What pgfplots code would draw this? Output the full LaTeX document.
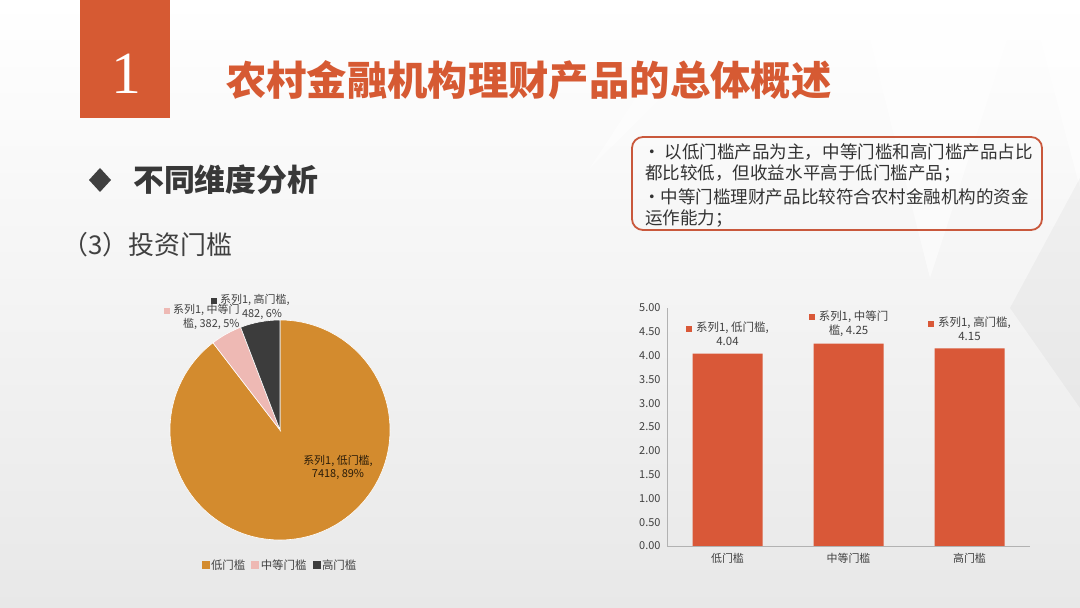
\documentclass[border=0pt]{standalone}
\usepackage{pgfplots}
\pgfplotsset{compat=1.18}
\usepackage{fontspec}
\setmainfont{Noto Sans CJK SC}
\newfontfamily\serifnum{Liberation Serif}
\definecolor{barred}{HTML}{D95838}
\definecolor{titleorange}{HTML}{D65A33}
\definecolor{pieorange}{HTML}{D38B2E}
\definecolor{piepink}{HTML}{EEB9B4}
\definecolor{piedark}{HTML}{3C3C3C}
\definecolor{txtgray}{HTML}{404040}
\definecolor{boxred}{HTML}{C9583C}
\newcommand{\sq}[1]{\textcolor{#1}{\rule{6bp}{6bp}}}
\def\vlow{7418}
\def\vmid{382}
\def\vhigh{482}
\begin{document}
\begin{tikzpicture}[x=1bp,y=1bp]
\shade[top color=white, bottom color=black!9] (0,0) rectangle (1080,608);
\useasboundingbox (0,0) rectangle (1080,608);
% faint background shapes
\fill[white,opacity=0.55] (860,608) -- (1020,608) -- (930,330) -- cycle;
\fill[white,opacity=0.55] (1030,608) -- (1080,608) -- (1080,420) -- cycle;
\fill[black,opacity=0.03] (1010,300) -- (1080,430) -- (1080,200) -- cycle;
\fill[white,opacity=0.45] (590,440) -- (760,608) -- (700,608) -- cycle;
% title
\fill[titleorange] (80,490) rectangle (170,608);
\node[white, font=\serifnum\fontsize{60}{60}\selectfont] at (126,534) {1};
\node[anchor=west, text=titleorange, font=\fontsize{40.5}{40.5}\selectfont\bfseries, inner sep=0] at (226,528) {农村金融机构理财产品的总体概述};
% subtitle
\fill[black!75] (100,440) -- (111,428) -- (100,416) -- (89,428) -- cycle;
\node[anchor=west, text=black!78, font=\fontsize{31}{31}\selectfont\bfseries, inner sep=0] at (133,428) {不同维度分析};
\node[anchor=west, text=txtgray, font=\fontsize{26}{26}\selectfont, inner sep=0] at (62,363) {（3）投资门槛};
% text box
\draw[boxred, line width=1.8bp, rounded corners=11bp] (632,378) rectangle (1042,471);
\begin{scope}[every node/.style={anchor=west, inner sep=0, text=black!80, font=\fontsize{17.6}{17.6}\selectfont}]
\node at (643,456) {• 以低门槛产品为主，中等门槛和高门槛产品占比};
\node at (645,434) {都比较低，但收益水平高于低门槛产品；};
\node at (643,411) {•中等门槛理财产品比较符合农村金融机构的资金};
\node at (645,389) {运作能力；};
\end{scope}
% pie chart
\pgfmathsetmacro\total{\vlow+\vmid+\vhigh}
\pgfmathsetmacro\aA{90-\vlow/\total*360}
\pgfmathsetmacro\aB{\aA-\vmid/\total*360}
\begin{axis}[at={(280bp,178bp)}, anchor=center, scale only axis, width=240bp, height=240bp,
  xmin=-1.2, xmax=1.2, ymin=-1.2, ymax=1.2, hide axis, clip=false,
  legend columns=3,
  legend style={at={(0.5,-0.0625)}, anchor=center, draw=none, fill=none,
    font=\fontsize{11.5}{11.5}\selectfont, text=txtgray,
    /tikz/every even column/.append style={column sep=4bp}},
  legend cell align=left]
\addlegendimage{legend image code/.code={\fill[pieorange] (0bp,-3.5bp) rectangle (7bp,3.5bp);}}
\addlegendentry{低门槛}
\addlegendimage{legend image code/.code={\fill[piepink] (0bp,-3.5bp) rectangle (7bp,3.5bp);}}
\addlegendentry{中等门槛}
\addlegendimage{legend image code/.code={\fill[piedark] (0bp,-3.5bp) rectangle (7bp,3.5bp);}}
\addlegendentry{高门槛}
\fill[pieorange, draw=white, line width=0.6bp] (axis cs:0,0) -- (axis cs:0,1.1) arc[start angle=90, end angle=\aA, radius=110bp] -- cycle;
\fill[piepink, draw=white, line width=0.6bp] (axis cs:0,0) -- ({axis cs:0,0}) ++(\aA:110bp) arc[start angle=\aA, end angle=\aB, radius=110bp] -- (axis cs:0,0) -- cycle;
\fill[piedark, draw=white, line width=0.6bp] (axis cs:0,0) -- ({axis cs:0,0}) ++(\aB:110bp) arc[start angle=\aB, end angle=-270, radius=110bp] -- (axis cs:0,0) -- cycle;
\end{axis}
% pie labels
\begin{scope}[every node/.style={inner sep=0, text=txtgray, font=\fontsize{11}{11}\selectfont}]
\node[anchor=west] at (211,308) {\sq{piedark}\hspace{3bp}系列1, 高门槛,};
\node at (262,294) {482, 6\%};
\node[anchor=west] at (164,298) {\sq{piepink}\hspace{3bp}系列1, 中等门};
\node[anchor=west] at (183,284) {槛, 382, 5\%};
\node[text=black!80!pieorange] at (338,147) {系列1, 低门槛,};
\node[text=black!80!pieorange] at (338,134) {7418, 89\%};
\end{scope}
% bar chart
\begin{axis}[at={(667bp,62bp)}, anchor=south west, scale only axis, width=363bp, height=238bp,
  xmin=-0.5, xmax=2.5, ymin=0, ymax=5,
  ytick={0,0.5,1,1.5,2,2.5,3,3.5,4,4.5,5},
  xtick={0,1,2}, xticklabels={低门槛,中等门槛,高门槛},
  axis x line*=bottom, axis y line*=left, major tick length=0,
  axis line style={draw=black!30, line width=0.8bp},
  tick label style={font=\fontsize{11}{11}\selectfont, text=txtgray},
  yticklabel style={xshift=-3bp},
  /pgf/number format/fixed, /pgf/number format/fixed zerofill,
  /pgf/number format/precision=2, /pgf/number format/assume math mode=true,
  xticklabel style={yshift=-4bp},
  ybar, bar width=70bp, clip=false]
\addplot[fill=barred, draw=none] coordinates {(0,4.04) (1,4.25) (2,4.15)};
\node[align=center, text=txtgray, font=\fontsize{11.5}{14}\selectfont, inner sep=0] at (axis cs:0,4.45) {\sq{barred}\hspace{4bp}系列1, 低门槛,\\4.04};
\node[align=center, text=txtgray, font=\fontsize{11.5}{14}\selectfont, inner sep=0] at (axis cs:1,4.67) {\sq{barred}\hspace{4bp}系列1, 中等门\\槛, 4.25};
\node[align=center, text=txtgray, font=\fontsize{11.5}{14}\selectfont, inner sep=0] at (axis cs:2,4.56) {\sq{barred}\hspace{4bp}系列1, 高门槛,\\4.15};
\end{axis}
\end{tikzpicture}
\end{document}
